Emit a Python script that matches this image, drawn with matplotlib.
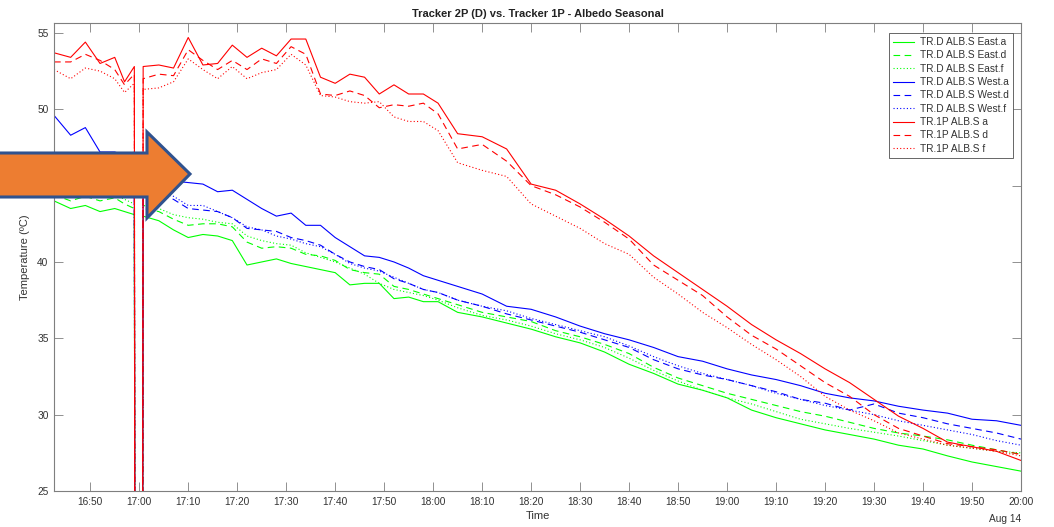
import matplotlib
matplotlib.use('Agg')
import matplotlib.pyplot as plt
import matplotlib.dates as mdates
from matplotlib.patches import Polygon
import pandas as pd

plt.rcParams['font.family'] = ['Liberation Sans', 'DejaVu Sans']

# minutos depois das 16:00 (Aug 14)
minutes = [42.6, 46, 49, 52, 55, 57, 59,
           59.1, 60.7,
           60.8,
           64, 67, 70, 73, 76, 79, 82, 85, 88, 91, 94, 97, 100, 103, 106, 109, 112, 115, 118, 121,
           125, 130, 135, 140, 145, 150, 155, 160, 165, 170, 175, 180, 185, 190, 195, 200,
           205, 210, 215, 220, 225, 230, 235, 240]

# TR.D ALB.S East (verde)
east_a = [44.0, 43.5, 43.7, 43.3, 43.5, 43.3, 43.1,
          20, 20,
          43.0,
          42.7, 42.1, 41.6, 41.8, 41.7, 41.4, 39.8, 40.0, 40.2, 39.9, 39.7, 39.5, 39.3, 38.5, 38.6, 38.6, 37.6, 37.7, 37.4, 37.4,
          36.7, 36.4, 36.0, 35.6, 35.1, 34.7, 34.1, 33.3, 32.7, 32.0, 31.6, 31.1, 30.3, 29.8, 29.4, 29.0,
          28.7, 28.4, 28.0, 27.75, 27.3, 26.9, 26.6, 26.3]
east_d = [44.4, 44.0, 44.3, 44.0, 44.2, 43.8, 43.5,
          20, 20,
          43.5,
          43.3, 42.8, 42.4, 42.5, 42.5, 42.3, 41.3, 40.9, 41.0, 40.9, 40.5, 40.4, 40.1, 39.5, 39.3, 39.2, 38.4, 38.2, 37.9, 37.6,
          37.2, 36.7, 36.4, 36.1, 35.5, 35.1, 34.6, 34.0, 33.1, 32.4, 31.9, 31.4, 31.0, 30.6, 30.2, 29.9,
          29.5, 29.1, 28.8, 28.6, 28.35, 28.0, 27.7, 27.4]
east_f = [44.6, 44.3, 44.5, 44.3, 44.4, 44.1, 43.8,
          20, 20,
          43.7,
          43.5, 43.1, 42.9, 42.8, 42.6, 42.5, 41.7, 41.4, 41.2, 41.1, 40.6, 40.3, 40.0, 39.6, 39.2, 38.6, 38.2, 38.0, 37.8, 37.5,
          37.0, 36.5, 36.2, 35.8, 35.3, 34.9, 34.4, 33.7, 32.9, 32.2, 31.6, 31.1, 30.7, 30.2, 29.7, 29.4,
          29.1, 28.85, 28.6, 28.3, 28.0, 27.8, 27.6, 27.5]

# TR.D ALB.S West (azul)
west_a = [49.6, 48.3, 48.8, 47.2, 47.2, 47.0, 46.7,
          20, 20,
          46.4,
          46.0, 45.3, 45.2, 45.1, 44.6, 44.7, 44.1, 43.5, 43.0, 43.2, 42.4, 42.4, 41.6, 41.0, 40.4, 40.3, 40.0, 39.6, 39.1, 38.8,
          38.4, 37.9, 37.1, 36.9, 36.4, 35.8, 35.3, 34.9, 34.4, 33.8, 33.5, 33.0, 32.6, 32.3, 31.9, 31.4,
          31.1, 30.9, 30.55, 30.3, 30.1, 29.7, 29.6, 29.3]
west_d = [45.4, 45.2, 45.3, 45.0, 45.1, 44.9, 44.6,
          20, 20,
          44.6,
          44.4, 44.1, 43.5, 43.4, 43.3, 42.9, 42.2, 42.1, 42.0, 41.6, 41.4, 41.1, 40.5, 40.0, 39.7, 39.5, 38.9, 38.6, 38.2, 38.0,
          37.5, 37.1, 36.6, 36.2, 35.8, 35.4, 34.9, 34.4, 33.6, 33.0, 32.6, 32.3, 31.9, 31.5, 31.0, 30.75,
          30.3, 30.7, 30.1, 29.8, 29.4, 29.1, 28.8, 28.4]
west_f = [45.0, 44.8, 44.9, 44.7, 44.8, 44.5, 44.3,
          20, 20,
          44.4,
          44.5, 44.3, 43.7, 43.7, 43.3, 42.9, 42.3, 42.1, 41.7, 41.5, 41.2, 41.0, 40.5, 39.9, 39.6, 39.4, 39.0, 38.6, 38.2, 38.0,
          37.5, 37.1, 36.8, 36.3, 35.9, 35.5, 35.1, 34.5, 33.8, 33.2, 32.7, 32.3, 31.9, 31.4, 31.0, 30.6,
          30.3, 30.0, 29.6, 29.3, 29.0, 28.7, 28.3, 28.0]

# TR.1P ALB.S (vermelho)
p1_a = [53.7, 53.4, 54.4, 53.0, 53.4, 51.8, 52.8,
        20, 20,
        52.8,
        52.9, 52.7, 54.7, 52.9, 53.0, 54.2, 53.4, 54.0, 53.5, 54.6, 54.6, 52.1, 51.7, 52.3, 52.1, 51.0, 51.6, 51.0, 51.0, 50.4,
        48.4, 48.2, 47.4, 45.1, 44.7, 43.8, 42.8, 41.7, 40.4, 39.3, 38.2, 37.1, 35.9, 34.9, 34.0, 33.0,
        32.1, 31.0, 29.9, 29.1, 28.2, 27.9, 27.6, 27.0]
p1_d = [53.1, 53.1, 53.6, 53.2, 52.6, 51.6, 52.3,
        20, 20,
        52.0,
        52.3, 52.2, 53.9, 53.2, 52.6, 53.2, 52.6, 53.3, 53.0, 54.1, 53.6, 51.0, 50.9, 51.2, 50.9, 50.1, 50.3, 50.2, 50.4, 49.7,
        47.4, 47.7, 46.6, 45.0, 44.4, 43.6, 42.6, 41.5, 39.8, 38.8, 37.8, 36.4, 35.2, 34.3, 33.2, 32.1,
        31.2, 30.0, 29.1, 28.6, 28.1, 27.9, 27.7, 27.4]
p1_f = [52.6, 52.0, 52.7, 52.5, 52.0, 51.1, 51.7,
        20, 20,
        51.3,
        51.4, 51.8, 53.3, 52.6, 52.0, 52.8, 52.0, 52.4, 52.6, 53.6, 52.9, 50.9, 50.8, 50.5, 50.4, 50.5, 49.5, 49.2, 49.2, 48.6,
        46.5, 46.0, 45.6, 43.8, 43.0, 42.2, 41.2, 40.5, 39.0, 37.9, 36.7, 35.7, 34.6, 33.6, 32.5, 31.2,
        30.3, 29.6, 28.8, 28.4, 28.0, 27.8, 27.6, 27.3]

labels = ['TR.D ALB.S East.a', 'TR.D ALB.S East.d', 'TR.D ALB.S East.f',
          'TR.D ALB.S West.a', 'TR.D ALB.S West.d', 'TR.D ALB.S West.f',
          'TR.1P ALB.S a', 'TR.1P ALB.S d', 'TR.1P ALB.S f']

times = pd.Timestamp('2017-08-14 16:00') + pd.to_timedelta(minutes, unit='min')

series = [east_a, east_d, east_f, west_a, west_d, west_f, p1_a, p1_d, p1_f]
colors = ['#00ff00'] * 3 + ['#0000ff'] * 3 + ['#ff0000'] * 3
styles = ['-', (0, (6, 4)), (0, (1, 2))] * 3

fig = plt.figure(figsize=(10.54, 5.27), dpi=100)
ax = fig.add_axes([54 / 1054, 1 - 491 / 527, 967 / 1054, 468 / 527])

for vals, c, ls, lab in zip(series, colors, styles, labels):
    ax.plot(times, vals, color=c, linestyle=ls, linewidth=0.8, label=lab)

ax.set_xlim(times[0], times[-1])
ax.set_ylim(25, 55.65)
ax.set_yticks([25, 30, 35, 40, 45, 50, 55])
ax.xaxis.set_major_locator(mdates.MinuteLocator(byminute=[0, 10, 20, 30, 40, 50]))
ax.xaxis.set_major_formatter(mdates.DateFormatter('%H:%M'))

ax.tick_params(direction='in', length=6.5, width=0.6, colors='#7f7f7f',
               labelcolor='#333333', labelsize=7.3, top=True, right=True, pad=4)
for s in ax.spines.values():
    s.set_color('#7f7f7f')
    s.set_linewidth(0.8)

ax.set_title('Tracker 2P (D) vs. Tracker 1P - Albedo Seasonal', fontsize=8,
             fontweight='bold', color='#222222', pad=4)
ax.set_xlabel('Time', fontsize=8, color='#333333', labelpad=3)
ax.set_ylabel('Temperature (ºC)', fontsize=8, color='#333333', labelpad=5)
ax.text(1.0, -0.06, 'Aug 14', transform=ax.transAxes, ha='right', va='center',
        fontsize=7.3, color='#333333')

leg = ax.legend(loc='upper right', bbox_to_anchor=(0.9917, 0.9786), borderaxespad=0,
                fontsize=7.3, labelspacing=0.33, handlelength=2.1, handletextpad=0.6,
                borderpad=0.4, fancybox=False, framealpha=1, edgecolor='#4d4d4d')
leg.get_frame().set_linewidth(0.6)
for t in leg.get_texts():
    t.set_color('#333333')

# seta laranja sobreposta (em pixels da figura)
W, H = 1054, 527
arrow_px = [(-5, 153), (147, 153), (147, 132), (190, 174), (147, 218), (147, 197), (-5, 197)]
arrow = Polygon([(x / W, 1 - y / H) for x, y in arrow_px], closed=True,
                facecolor='#ED7D31', edgecolor='#2F528F', linewidth=2.2,
                transform=fig.transFigure, zorder=10)
fig.add_artist(arrow)

fig.savefig('out.png', dpi=100)
